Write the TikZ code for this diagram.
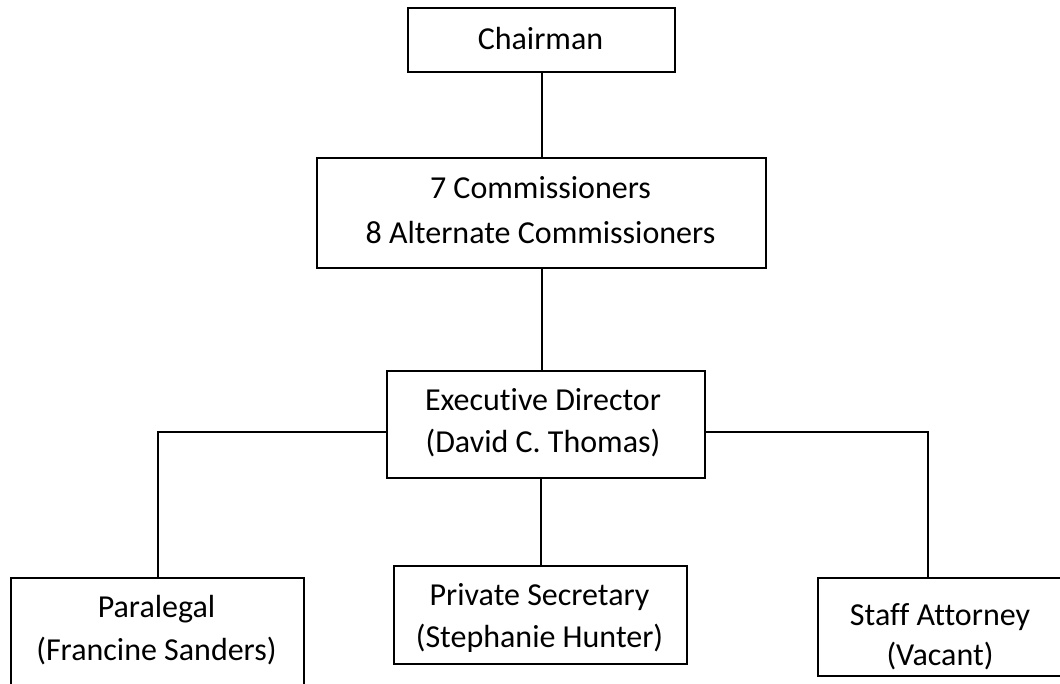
\documentclass[tikz,border=0pt]{standalone}
\usepackage{fontspec}
\setmainfont{Carlito}[Ligatures={NoCommon}]
\begin{document}
\begin{tikzpicture}[x=1pt,y=-1pt,
  box/.style={draw=black,line width=2.4pt,inner sep=0pt,anchor=north west},
  conn/.style={draw=black,line width=2pt},
  lbl/.style={anchor=base,inner sep=0pt,font=\fontsize{32}{40}\selectfont}]
\clip (0,0) rectangle (1060,683);
\fill[white] (0,0) rectangle (1060,683);
% boxes
\node[box,minimum width=267pt,minimum height=64pt] (chair) at (407,7) {};
\node[box,minimum width=449pt,minimum height=110pt] (comm) at (316,157) {};
\node[box,minimum width=318pt,minimum height=107pt] (ed) at (386,370) {};
\node[box,minimum width=293pt,minimum height=130pt] (para) at (10,577) {};
\node[box,minimum width=293pt,minimum height=98pt] (priv) at (393,565) {};
\node[box,minimum width=246pt,minimum height=98pt] (staff) at (817,577) {};
% texts
\node[lbl] (tchair) at (540.5,49) {Chairman};
\node[lbl] (tcomm1) at (540.5,198) {7 Commissioners};
\node[lbl] (tcomm2) at (540.5,243) {8 Alternate Commissioners};
\node[lbl] (ted1) at (543,410) {Executive Director};
\node[lbl] (ted2) at (543,452) {(David C. Thomas)};
\node[lbl] (tpara1) at (156.5,617) {Paralegal};
\node[lbl] (tpara2) at (156.5,660) {(Francine Sanders)};
\begin{scope}
\clip (393,565) rectangle (686,651);
\node[lbl] (tpriv1) at (539.5,605) {Private Secretary};
\node[lbl] (tpriv2) at (539.5,647) {(Stephanie Hunter)};
\end{scope}
\node[lbl] (tstaff1) at (940,625) {Staff Attorney};
\node[lbl] (tstaff2) at (940,665) {(Vacant)};
% connectors
\coordinate (hy) at (0,432);
\coordinate (pdrop) at (158,577);
\coordinate (sdrop) at (928,577);
\draw[conn] (chair.south) -- (comm.north);
\draw[conn] (comm.south) -- (comm.south |- ed.north);
\draw[conn] (ed.west |- hy) -| (pdrop);
\draw[conn] (ed.east |- hy) -| (sdrop);
\draw[conn] (ed.south -| priv.north) -- (priv.north);
\end{tikzpicture}
\end{document}
